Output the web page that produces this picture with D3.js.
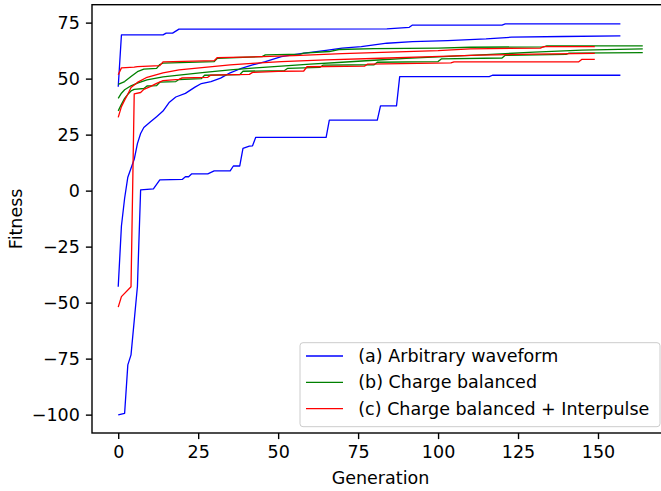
<!DOCTYPE html>
<html>
<head>
<meta charset="utf-8">
<script src="https://cdn.jsdelivr.net/npm/d3@7"></script>
<style>
  body { margin: 0; background: #fff; }
  text { font-family: "DejaVu Sans", sans-serif; fill: #000; }
</style>
</head>
<body>
<div id="chart"></div>
<script>
// best fitness per generation, [generation, fitness]
var arbitrary = [
  [[0,46.4],[1,69.5],[14,69.5],[15,70.3],[17,70.3],[19,72.1],[84,72.2],[91,72.9],[92,73.9],[120,73.9],[121,74.4],[157,74.4]],
  [[0,-42.9],[1,-15.8],[2,-3.4],[3,6],[4,10],[5,14],[6,21],[7,25.5],[8,28.2],[10,30.6],[12,33],[14,35.5],[16,39.5],[18,41.8],[21,43.4],[24,46.2],[26,47.8],[29,48.7],[32,50.2],[35,52.6],[38,54.3],[42,56.1],[46,57.6],[51,59.8],[57,61.2],[65,62.6],[70,63.6],[76,64.3],[84,65.8],[92,66.5],[103,67],[115,67.7],[123,68.5],[139,68.8],[157,69.1]],
  [[0,-100.1],[2,-99.4],[3,-77.8],[4,-73.3],[6,-42.8],[7,0.3],[11,0.8],[13,4.8],[20,5],[21,6.2],[22,6.2],[23,7.5],[28,7.5],[30,8.8],[35,8.8],[36,11],[38,11],[39,18.9],[41,19.9],[42,20],[43,23.8],[65,23.8],[66,31.5],[81,31.5],[82,37.8],[87,37.8],[88,50.9],[116,50.9],[117,51.5],[157,51.5]]
];
var balanced = [
  [[0,47.4],[2,48.7],[4,50.9],[6,53.1],[8,54.2],[12,54.6],[13,56.3],[14,56.9],[30,57.6],[31,59.1],[45,59.8],[46,60.6],[57,60.9],[58,61.4],[66,62.1],[69,63],[80,63.4],[100,63.6],[110,64],[133,64.2],[134,64.6],[164,64.6]],
  [[0,41.2],[1,43.5],[2,45],[4,46.8],[6,48],[9,49.4],[14,50.8],[19,51.6],[27,52.8],[35,53.9],[43,54.8],[51,55.6],[60,56.5],[70,57.3],[80,58.2],[90,59],[100,59.7],[115,60.7],[130,61.8],[145,62.7],[164,63.3]],
  [[0,35.6],[1,38.5],[2,41.2],[3,43],[4,44.5],[5,45.2],[8,45.6],[9,46.7],[12,46.9],[13,48.4],[18,48.7],[19,49.6],[26,50],[27,51.5],[38,51.8],[39,53.3],[52,53.6],[53,54.6],[63,55],[64,56],[80,56.2],[81,57.3],[100,57.6],[101,58.8],[120,59.2],[121,60.4],[140,60.8],[141,61.4],[164,61.6]]
];
var interpulse = [
  [[0,51.7],[1,54.8],[5,55.1],[6,55.4],[13,55.8],[14,57.5],[30,58],[31,59.4],[45,59.8],[55,60.3],[70,61.2],[85,61.8],[100,62.5],[110,63.3],[132,63.6],[133,64.3],[149,64.3]],
  [[0,32.7],[1,37.5],[2,40.4],[3,43],[4,46],[6,48.3],[9,50.6],[14,52.6],[19,53.9],[27,55],[35,56.1],[43,56.9],[51,57.6],[65,58.4],[82,59.1],[98,59.8],[113,60.5],[130,60.9],[149,61.3]],
  [[0,-52],[1,-47.3],[4,-42.9],[5,43.2],[7,43.8],[8,45.2],[10,46.4],[12,47.9],[14,49.1],[19,49.7],[20,50.3],[28,50.6],[29,51.6],[41,51.9],[42,52.8],[50,53.2],[58,53.4],[59,55.3],[77,55.6],[78,56.5],[104,57],[105,57.5],[144,57.5],[145,58.6],[149,58.6]]
];
var labels = ['(a) Arbitrary waveform', '(b) Charge balanced', '(c) Charge balanced + Interpulse'];
var colors = ['#0000ff', '#008000', '#ff0000'];
var xTicks = [0, 25, 50, 75, 100, 125, 150];
var yTicks = [-100, -75, -50, -25, 0, 25, 50, 75];

var width = 661, height = 491;
var margin = {top: 4.7, right: -8, bottom: 58, left: 92};
var fontSize = 17.5;
var tickLen = 6.1, tickPad = 6.1;

var svg = d3.select('#chart')
  .append('svg')
  .attr('width', width)
  .attr('height', height);

var x = d3.scaleLinear()
  .domain([-8.2, 172.2])
  .range([margin.left, width - margin.right]);
var y = d3.scaleLinear()
  .domain([-108.2, 83.0])
  .range([height - margin.bottom, margin.top]);

var line = d3.line()
  .x(function(d) { return x(d[0]); })
  .y(function(d) { return y(d[1]); });

// runs, blue first so red ends up on top
var groups = [arbitrary, balanced, interpulse];
groups.forEach(function(runs, gi) {
  runs.forEach(function(run) {
    svg.append('path')
      .attr('d', line(run))
      .attr('fill', 'none')
      .attr('stroke', colors[gi])
      .attr('stroke-width', 1.3)
      .attr('stroke-linejoin', 'round');
  });
});

// axes
var xAxis = d3.axisBottom(x).tickValues(xTicks).tickSize(tickLen).tickPadding(tickPad);
var yAxis = d3.axisLeft(y).tickValues(yTicks).tickSize(tickLen).tickPadding(tickPad);

var gx = svg.append('g')
  .attr('transform', 'translate(0,' + (height - margin.bottom) + ')')
  .call(xAxis);
var gy = svg.append('g')
  .attr('transform', 'translate(' + margin.left + ',0)')
  .call(yAxis);

[gx, gy].forEach(function(g) {
  g.select('.domain').remove();
  g.selectAll('.tick line').attr('stroke', '#000').attr('stroke-width', 1.4);
  g.selectAll('.tick text')
    .style('font-family', '"DejaVu Sans", sans-serif')
    .style('font-size', fontSize + 'px')
    .attr('fill', '#000');
});
gx.selectAll('.tick text').attr('dy', '0.72em');

// frame
svg.append('rect')
  .attr('x', x.range()[0])
  .attr('y', margin.top)
  .attr('width', x.range()[1] - x.range()[0])
  .attr('height', y.range()[0] - margin.top)
  .attr('fill', 'none')
  .attr('stroke', '#000')
  .attr('stroke-width', 1.4);

// axis labels
svg.append('text')
  .attr('x', (x.range()[0] + x.range()[1]) / 2)
  .attr('y', 484)
  .attr('text-anchor', 'middle')
  .style('font-size', fontSize + 'px')
  .text('Generation');
svg.append('text')
  .attr('transform', 'translate(22,' + ((y.range()[0] + y.range()[1]) / 2) + ') rotate(-90)')
  .attr('text-anchor', 'middle')
  .style('font-size', fontSize + 'px')
  .text('Fitness');

// legend
var legend = svg.append('g').attr('transform', 'translate(300,342.7)');
legend.append('rect')
  .attr('width', 360)
  .attr('height', 84)
  .attr('rx', 3)
  .attr('fill', '#fff')
  .attr('fill-opacity', 0.8)
  .attr('stroke', '#cccccc')
  .attr('stroke-width', 1);
labels.forEach(function(lab, i) {
  var row = 13.3 + i * 26.3;
  legend.append('line')
    .attr('x1', 6).attr('x2', 43)
    .attr('y1', row).attr('y2', row)
    .attr('stroke', colors[i])
    .attr('stroke-width', 1.3);
  legend.append('text')
    .attr('x', 58.3)
    .attr('y', row)
    .attr('dy', '0.35em')
    .style('font-size', fontSize + 'px')
    .text(lab);
});
</script>
</body>
</html>
